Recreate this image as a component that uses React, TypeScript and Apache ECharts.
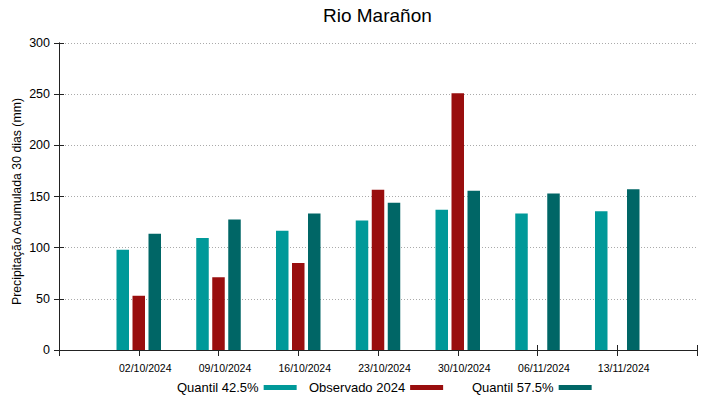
import React, { useEffect, useRef } from "react";
import * as echarts from "echarts";

const title = "Rio Marañon";
const yAxisName = "Precipitação Acumulada 30 dias (mm)";
const dates = ["02/10/2024", "09/10/2024", "16/10/2024", "23/10/2024", "30/10/2024", "06/11/2024", "13/11/2024"];
const quantil425 = [98, 109.5, 116.5, 126.5, 137, 133.5, 135.5];
const observado2024 = [53, 71, 85, 156.5, 251];
const quantil575 = [113.5, 127.5, 133.5, 144, 155.5, 153, 157];
const seriesNames = ["Quantil 42.5%", "Observado 2024", "Quantil 57.5%"];
const colors = ["#009999", "#990e0e", "#006666"];

const FONT = "Liberation Sans, Arial, sans-serif";

function toPairs(values: number[]) {
  return values.map((v, i) => [i + 1, v]);
}

export default function App() {
  const ref = useRef<HTMLDivElement>(null);
  useEffect(() => {
    if (!ref.current) return;
    const chart = echarts.init(ref.current, null, { renderer: "svg" });
    const frameColor = "#222";
    const barWidth = 12.5;
    const legendLefts = [177, 309, 472];
    chart.setOption({
      animation: false,
      backgroundColor: "#fff",
      textStyle: { fontFamily: FONT },
      title: {
        text: title,
        left: 323,
        top: 6,
        padding: 0,
        textStyle: { fontSize: 19, fontWeight: "normal", color: "#000", fontFamily: FONT },
      },
      graphic: [
        {
          type: "text",
          x: 17,
          y: 201.5,
          rotation: Math.PI / 2,
          style: {
            text: yAxisName,
            fontSize: 12.3,
            fontFamily: FONT,
            fill: "#000",
            align: "center",
            verticalAlign: "middle",
          },
        },
      ],
      legend: seriesNames.map((name, i) => ({
        data: [name],
        left: legendLefts[i],
        top: 381,
        padding: 0,
        align: "right",
        icon: "rect",
        itemWidth: 33,
        itemHeight: 5,
        selectedMode: false,
        textStyle: { fontSize: 13, color: "#000", fontFamily: FONT },
      })),
      grid: { left: 59, right: 22, top: 43, bottom: 49, containLabel: false },
      xAxis: [
        {
          type: "value",
          min: 0,
          max: 8,
          interval: 1,
          position: "bottom",
          axisLine: { show: true, lineStyle: { color: frameColor, width: 1 } },
          axisTick: { show: true, inside: true, length: 5, lineStyle: { color: frameColor } },
          splitLine: { show: false },
          axisLabel: {
            fontSize: 10.5,
            color: "#000",
            margin: 12,
            padding: [0, 0, 0, 13],
            fontFamily: FONT,
            formatter: (v: number) => (v >= 1 && v <= dates.length ? dates[v - 1] : ""),
          },
        },
        {
          type: "value",
          min: 0,
          max: 8,
          interval: 1,
          position: "top",
          axisLine: { show: true, lineStyle: { color: frameColor, width: 1 } },
          axisTick: { show: true, inside: true, length: 6, lineStyle: { color: frameColor } },
          splitLine: { show: false },
          axisLabel: { show: false },
        },
      ],
      yAxis: [
        {
          type: "value",
          min: 0,
          max: 300,
          interval: 50,
          position: "left",
          axisLine: { show: true, lineStyle: { color: frameColor, width: 1 } },
          axisTick: { show: true, inside: true, length: 5, lineStyle: { color: frameColor } },
          splitLine: { show: true, lineStyle: { color: "#aaa", type: [1, 2], width: 1 } },
          axisLabel: { fontSize: 12.5, color: "#000", margin: 9, fontFamily: FONT },
        },
        {
          type: "value",
          min: 0,
          max: 300,
          interval: 50,
          position: "right",
          axisLine: { show: true, lineStyle: { color: frameColor, width: 1 } },
          axisTick: { show: true, inside: true, length: 5, lineStyle: { color: frameColor } },
          splitLine: { show: false },
          axisLabel: { show: false },
        },
      ],
      series: [
        {
          name: seriesNames[0],
          type: "bar",
          xAxisIndex: 0,
          yAxisIndex: 0,
          barWidth,
          barGap: "28%",
          itemStyle: { color: colors[0] },
          data: toPairs(quantil425),
        },
        {
          name: seriesNames[1],
          type: "bar",
          xAxisIndex: 0,
          yAxisIndex: 0,
          barWidth,
          barGap: "28%",
          itemStyle: { color: colors[1] },
          data: toPairs(observado2024),
        },
        {
          name: seriesNames[2],
          type: "bar",
          xAxisIndex: 0,
          yAxisIndex: 0,
          barWidth,
          barGap: "28%",
          itemStyle: { color: colors[2] },
          data: toPairs(quantil575),
        },
      ],
    });
    return () => chart.dispose();
  }, []);
  return <div ref={ref} style={{ width: 719, height: 399, position: "absolute", left: 0, top: 0 }} />;
}
